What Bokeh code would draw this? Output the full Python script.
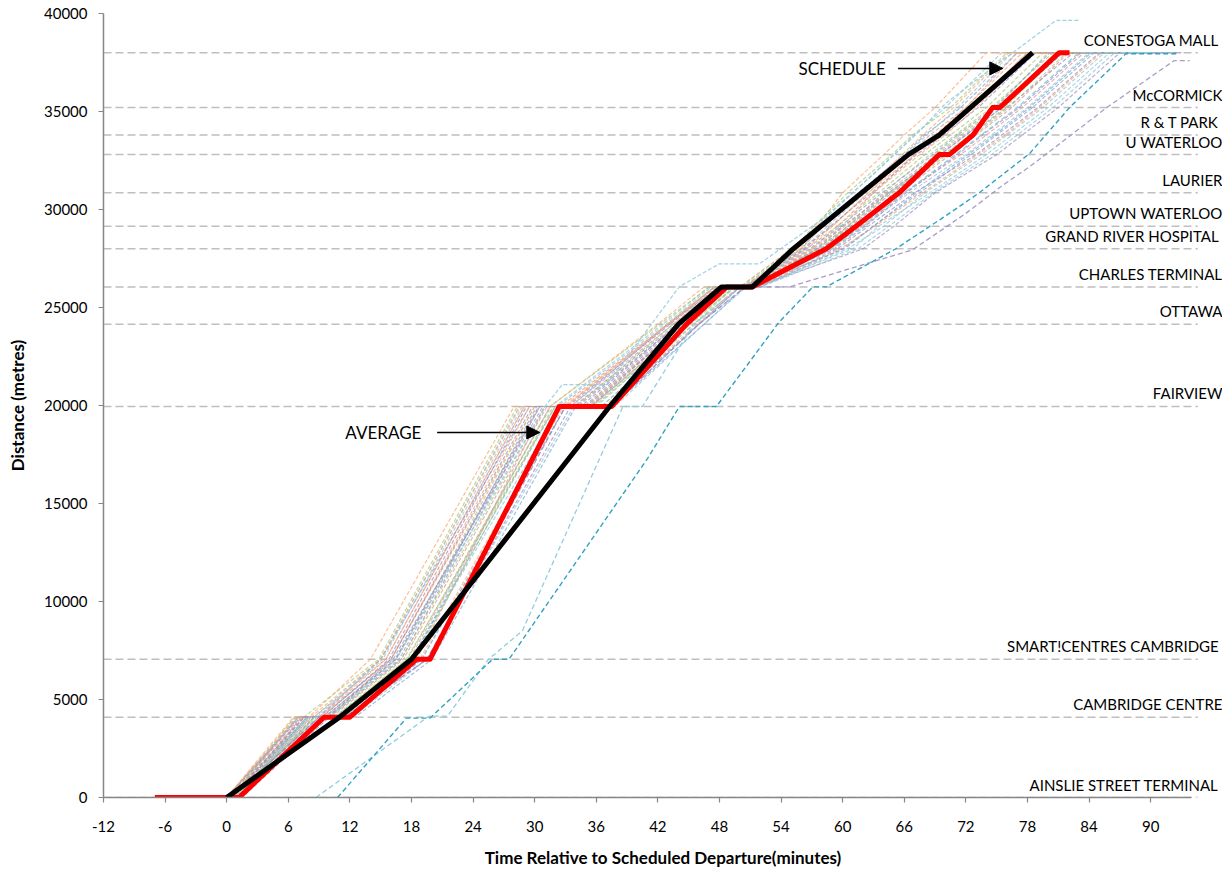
from bokeh.plotting import figure
from bokeh.models import Range1d, FixedTicker, Label, LabelSet, Arrow, NormalHead, ColumnDataSource
from bokeh.core.properties import value
from bokeh.embed import file_html
from bokeh.resources import INLINE

FONT = "Lato"

# ---------------- data ----------------
station_names = ["AINSLIE STREET  TERMINAL", "CAMBRIDGE CENTRE", "SMART!CENTRES  CAMBRIDGE",
                 "FAIRVIEW", "OTTAWA", "CHARLES TERMINAL", "GRAND RIVER  HOSPITAL",
                 "UPTOWN WATERLOO", "LAURIER", "U WATERLOO", "R & T  PARK", "McCORMICK",
                 "CONESTOGA  MALL"]
station_dist = [0, 4100, 7050, 19950, 24150, 26050, 28000, 29150, 30850, 32800, 33800, 35200, 38000]

# vertex distances shared by most trips (dwell at terminal, Cambridge Centre, Fairview, Charles, Conestoga)
trip_dist = [0, 0, 4100, 4100, 7050, 19950, 19950, 24150, 26050, 26050,
             28000, 29150, 30850, 32800, 33800, 35200, 38000, 38000]

T01 = [-2, 0.5, 6.8, 8.5, 15.0, 28.5, 32.0, 42.5, 47.0, 50.2, 55.5, 57.5, 61.0, 65.0, 67.0, 70.0, 75.5, 81.0]
T02 = [-4, 0.0, 7.0, 9.0, 15.5, 29.0, 33.0, 43.0, 47.5, 50.5, 56.5, 59.0, 62.5, 67.0, 69.5, 72.5, 78.0, 84.0]
T03 = [-1, 1.0, 7.5, 9.5, 16.5, 30.0, 34.0, 43.5, 48.0, 50.8, 57.0, 59.5, 63.5, 68.0, 70.5, 74.0, 79.5, 86.0]
T04 = [-6, 0.5, 8.0, 10.0, 17.0, 30.5, 34.5, 44.0, 48.5, 51.0, 57.5, 60.5, 64.5, 69.5, 72.0, 75.5, 81.0, 88.0]
T05 = [-3, 1.5, 8.5, 11.0, 18.5, 31.0, 35.0, 44.5, 49.0, 51.2, 58.0, 61.0, 65.5, 70.5, 73.0, 76.5, 82.0, 89.0]
T06 = [-5, 0.0, 7.0, 9.0, 15.0, 29.5, 33.5, 43.0, 47.5, 50.5, 56.0, 58.0, 61.5, 66.0, 68.0, 71.5, 77.0, 83.0]
T07 = [-2, 1.0, 9.0, 11.5, 18.0, 31.5, 36.0, 45.0, 49.5, 51.5, 58.5, 62.0, 66.5, 72.0, 74.5, 78.0, 84.0, 91.0]
T08 = [-7, 0.5, 7.5, 10.0, 16.0, 30.0, 34.0, 44.0, 48.5, 51.0, 57.0, 60.0, 63.0, 67.5, 70.0, 73.0, 78.5, 85.0]
T09 = [-2, 0.0, 8.0, 10.5, 17.5, 32.0, 36.5, 45.5, 49.5, 51.5, 59.0, 61.5, 65.0, 69.0, 71.5, 75.0, 80.0, 87.0]
T10 = [-4, 1.0, 9.5, 12.0, 19.0, 33.0, 37.0, 46.0, 50.0, 51.8, 59.5, 62.5, 67.0, 73.0, 75.5, 79.0, 85.0, 92.0]
T11 = [-3, 0.5, 7.0, 8.5, 15.5, 29.0, 32.5, 43.0, 48.0, 50.5, 55.5, 58.0, 62.0, 66.5, 68.5, 72.0, 77.0, 82.5]
T12 = [-1, 1.5, 10.0, 12.5, 20.0, 34.0, 37.5, 46.5, 50.5, 52.0, 60.0, 63.0, 67.5, 72.5, 75.0, 78.5, 84.5, 90.0]
T13 = [-2, 0.5, 8.5, 11.0, 18.0, 32.5, 36.5, 45.5, 50.0, 51.5, 61.0, 63.5, 68.5, 74.0, 76.5, 80.0, 86.0, 92.5]
T14 = [-5, 0.0, 6.5, 8.0, 14.0, 28.0, 31.5, 42.0, 46.5, 50.0, 55.0, 57.5, 60.0, 64.0, 66.0, 69.0, 74.0, 79.0]
T15 = [-3, 1.0, 8.0, 10.0, 17.0, 31.0, 35.0, 44.5, 49.0, 51.0, 58.0, 60.5, 64.0, 68.5, 71.0, 74.5, 80.5, 86.5]
T16 = [-2, 0.5, 9.0, 11.5, 19.5, 33.5, 37.5, 46.0, 50.0, 51.5, 62.0, 65.0, 69.0, 75.0, 77.5, 81.0, 87.0, 93.0]
T17 = [-6, 0.0, 7.5, 9.5, 16.5, 30.5, 33.5, 43.5, 48.0, 50.8, 56.5, 59.5, 63.0, 67.0, 69.0, 72.5, 78.0, 84.5]
T18 = [-2, 1.0, 8.5, 10.5, 18.0, 32.0, 35.5, 45.0, 49.0, 51.2, 57.5, 60.0, 64.5, 69.5, 72.0, 75.5, 81.5, 88.5]
T19 = [-4, 0.5, 9.0, 12.0, 19.0, 33.0, 37.0, 46.0, 50.5, 52.0, 60.5, 64.0, 68.0, 73.5, 76.0, 79.5, 85.5, 91.5]
T20 = [-1, 0.0, 7.0, 9.0, 16.0, 29.5, 33.0, 43.0, 47.5, 50.5, 56.0, 59.0, 62.5, 66.5, 69.0, 72.0, 77.5, 83.5]
T21 = [-8, 0.5, 6.6, 7.5, 14.8, 28.3, 31.5, 42.2, 47.0, 50.0, 55.2, 57.2, 60.5, 64.8, 66.8, 70.5, 76.0, 82.0]
T22 = [-3, 0.0, 7.2, 9.2, 16.0, 29.8, 34.8, 44.2, 48.8, 50.9, 57.8, 60.8, 64.8, 70.0, 72.5, 76.0, 82.5, 88.5]
T23 = [-5, 1.0, 8.2, 10.2, 17.2, 31.2, 35.5, 44.8, 49.2, 51.3, 58.8, 61.8, 66.0, 71.5, 74.0, 77.5, 83.5, 90.5]
T24 = [-2, 0.5, 7.8, 9.8, 16.8, 30.2, 33.8, 43.8, 48.2, 50.7, 56.8, 59.8, 63.8, 68.8, 71.2, 74.8, 80.2, 87.5]
T25 = [-4, 0.0, 6.9, 8.8, 15.2, 28.8, 32.2, 42.8, 47.2, 50.3, 56.2, 58.5, 62.2, 66.2, 68.2, 71.2, 76.5, 82.0]
T26 = [-1, 1.2, 9.2, 11.8, 18.8, 32.8, 36.8, 45.8, 49.8, 51.6, 59.8, 63.2, 67.8, 73.2, 75.8, 79.2, 85.2, 91.0]
T27 = [-6, 0.3, 8.8, 11.2, 18.2, 31.8, 35.8, 45.2, 49.4, 51.4, 58.2, 61.2, 65.2, 70.2, 72.8, 76.2, 81.8, 89.5]
T28 = [-3, 0.8, 7.3, 9.3, 15.8, 29.2, 33.2, 43.2, 47.8, 50.6, 56.3, 58.8, 62.8, 67.2, 69.8, 73.2, 78.8, 85.5]
T29 = [-2, 0.2, 8.3, 10.8, 17.8, 31.5, 35.2, 44.6, 48.9, 51.1, 57.2, 60.2, 64.2, 69.2, 71.8, 75.2, 80.8, 86.0]
T30 = [-5, 1.0, 7.8, 9.6, 16.2, 30.8, 34.2, 44.0, 48.4, 50.9, 60.2, 63.0, 67.2, 72.2, 74.8, 78.2, 84.2, 90.8]
T31 = [-2, 0.5, 9.8, 12.2, 19.5, 33.8, 37.8, 46.5, 50.6, 52.0, 61.5, 64.5, 68.8, 74.5, 77.0, 80.5, 86.5, 92.0]
T32 = [-4, 0.0, 6.7, 8.2, 15.0, 28.6, 32.8, 43.0, 47.6, 50.4, 55.8, 58.2, 61.8, 65.8, 67.8, 70.8, 76.2, 81.5]
T33 = [-1, 0.8, 8.6, 10.6, 17.6, 31.6, 35.6, 45.0, 49.0, 51.2, 57.6, 60.6, 64.6, 69.8, 72.4, 75.8, 81.2, 87.0]
T34 = [-3, 0.4, 7.6, 9.8, 16.4, 30.4, 35.4, 44.4, 48.6, 51.0, 59.2, 62.2, 66.2, 71.2, 73.6, 77.2, 83.2, 89.0]

pale_trips = [T01, T02, T03, T04, T05, T06, T07, T08, T09, T10, T11, T12, T13, T14, T15, T16, T17,
              T18, T19, T20, T21, T22, T23, T24, T25, T26, T27, T28, T29, T30, T31, T32, T33, T34]
palette = ["#8fc3d6", "#f9a56b", "#a9c673", "#9c89bd", "#d99694", "#7ea3d0"]

# outlier trips with their own vertices
late_t = [10.8, 17.5, 19.8, 25.9, 27.5, 41.0, 44.1, 47.7, 53.8, 57.1, 58.4, 65.2, 70.1, 73.3, 78.2, 82.1, 87.6, 92.8]
late_d = [0, 4050, 4050, 7050, 7050, 17300, 19950, 19950, 24250, 26050, 26050, 28000, 29700, 30850, 32850, 35200, 37950, 37950]

lagged_t = [8.7, 19.7, 21.5, 25.5, 28.8, 38.6, 40.5, 45.5, 50.0, 51.5, 59.0, 62.0, 66.0, 71.0, 73.5, 77.0, 83.0, 90.0]
lagged_d = [0, 4150, 4150, 7050, 8500, 19950, 19950, 24150, 26050, 26050, 28000, 29150, 30850, 32800, 33800, 35200, 38000, 38000]

offset_t = [-2, 1.0, 8.0, 10.0, 16.5, 31.0, 32.7, 37.0, 44.1, 48.0, 51.9, 58.0, 63.0, 67.5, 70.0, 73.5, 80.8, 83.0]
offset_d = [0, 0, 4100, 4100, 7050, 19950, 21070, 21070, 26070, 27230, 27230, 29500, 31800, 34000, 35400, 36800, 39650, 39650]

slow_t = [-3, 0.5, 9.0, 11.5, 19.5, 33.0, 37.5, 46.0, 50.5, 54.8, 66.8, 72.0, 75.5, 78.2, 82.0, 85.8, 92.3, 93.8]
slow_d = [0, 0, 4100, 4100, 7050, 19950, 19950, 24150, 26050, 26050, 27940, 29800, 31200, 32180, 33700, 35230, 37600, 37600]

average_t = [-7, 1.2, 9.5, 12.0, 18.5, 19.8, 32.4, 37.5, 44.8, 48.7, 51.2, 58.4, 61.3, 65.5, 69.4, 70.4, 72.7, 74.6, 75.3, 81.1, 82.1]
average_d = [0, 0, 4100, 4100, 7050, 7050, 19950, 19950, 24150, 26050, 26050, 28000, 29150, 30850, 32800, 32800, 33800, 35200, 35200, 38000, 38000]

schedule_t = [0, 11, 18, 37.3, 44, 48.2, 51.2, 55.2, 66.4, 69.4, 78.5]
schedule_d = [0, 4100, 7050, 19950, 24150, 26050, 26050, 28000, 32800, 33800, 38000]

x_ticks = list(range(-12, 91, 6))
y_ticks = list(range(0, 40001, 5000))

# axis extents (layout)
X_MIN, X_VIEW_END, X_AXIS_END, X_GUIDE_END, X_LABEL = -12, 97, 94, 94.6, 97.0

# ---------------- figure ----------------
p = figure(width=1222, height=870, x_range=Range1d(X_MIN, X_VIEW_END), y_range=Range1d(0, 40000),
           output_backend="svg", toolbar_location=None,
           min_border_left=103, min_border_right=0, min_border_top=13, min_border_bottom=71)
p.outline_line_color = None
p.xgrid.visible = False
p.ygrid.visible = False
p.background_fill_color = "white"
p.border_fill_color = "white"

for ax in (p.xaxis[0], p.yaxis[0]):
    ax.axis_line_color = "#868686"
    ax.axis_line_width = 1.5
    ax.major_tick_line_color = "#868686"
    ax.major_tick_line_width = 1.2
    ax.major_tick_out = 5
    ax.major_tick_in = 0
    ax.minor_tick_line_color = None
    ax.major_label_text_font = FONT
    ax.major_label_text_font_size = "15px"
    ax.major_label_text_color = "#000000"
    ax.axis_label_text_font = FONT
    ax.axis_label_text_font_size = "17px"
    ax.axis_label_text_font_style = "bold"
    ax.axis_label_text_color = "#000000"

p.xaxis[0].ticker = FixedTicker(ticks=x_ticks)
p.xaxis[0].bounds = (X_MIN, X_AXIS_END)
p.xaxis[0].major_label_overrides = {t: str(t) for t in x_ticks}
p.yaxis[0].ticker = FixedTicker(ticks=y_ticks)
p.xaxis[0].axis_label = "Time Relative to Scheduled Departure(minutes)"
p.yaxis[0].axis_label = "Distance (metres)"
p.xaxis[0].major_label_standoff = 18
p.xaxis[0].axis_label_standoff = 12
p.yaxis[0].major_label_standoff = 11
p.yaxis[0].axis_label_standoff = 13

# station reference lines
p.segment(x0=X_MIN, x1=X_GUIDE_END, y0=station_dist, y1=station_dist,
          line_color="#bfbfbf", line_width=1.5, line_dash="8 4")

# individual trips
for i, t in enumerate(pale_trips):
    p.line(t, trip_dist, line_color=palette[i % len(palette)], line_width=1.2,
           line_dash="4 2", line_alpha=0.7)

p.line(offset_t, offset_d, line_color="#93cddd", line_width=1.2, line_dash="4 2", line_alpha=0.9)
p.line(slow_t, slow_d, line_color="#9c89bd", line_width=1.3, line_dash="5 3", line_alpha=0.85)
p.line(lagged_t, lagged_d, line_color="#93cddd", line_width=1.3, line_dash="5 3")
p.line(late_t, late_d, line_color="#31a2c0", line_width=1.4, line_dash="5 3")

# average and schedule
p.line(average_t, average_d, line_color="#ff0000", line_width=5, line_join="round")
p.line(schedule_t, schedule_d, line_color="#000000", line_width=5, line_join="round")

# station labels
src = ColumnDataSource(dict(name=station_names, d=station_dist))
p.add_layout(LabelSet(x=X_LABEL, y="d", text="name", source=src, text_align="right",
                      text_baseline="bottom", y_offset=4, text_font=value(FONT),
                      text_font_size=value("15px"), text_color="#000000"))

# callouts
p.add_layout(Label(x=55.7, y=37200, text="SCHEDULE", text_font=FONT, text_font_size="17px",
                   text_baseline="middle", text_color="#000000"))
p.add_layout(Arrow(end=NormalHead(size=13, fill_color="black", line_color="black"),
                   x_start=65.4, y_start=37200, x_end=75.6, y_end=37200,
                   line_color="black", line_width=1.5))
p.add_layout(Label(x=11.56, y=18626, text="AVERAGE", text_font=FONT, text_font_size="17px",
                   text_baseline="middle", text_color="#000000"))
p.add_layout(Arrow(end=NormalHead(size=13, fill_color="black", line_color="black"),
                   x_start=20.5, y_start=18626, x_end=30.5, y_end=18626,
                   line_color="black", line_width=1.5))

open("out.html", "w").write(file_html(p, INLINE))
